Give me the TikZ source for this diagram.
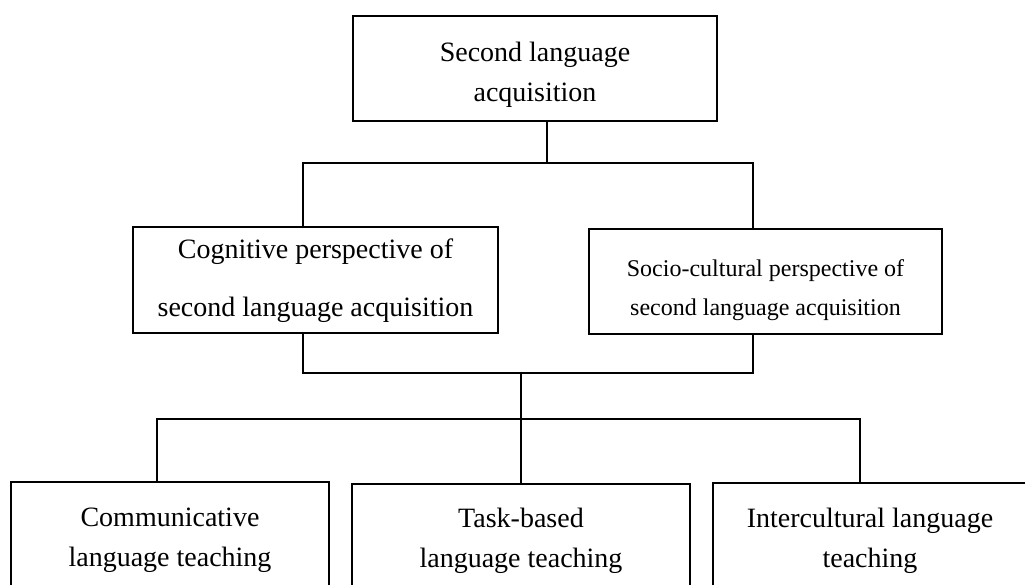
\documentclass[tikz,border=0pt]{standalone}
\usepackage{fontspec}
\setmainfont{Liberation Serif}
\begin{document}
\begin{tikzpicture}[x=1pt,y=-1pt,
  box/.style={draw, line width=2pt, inner sep=0pt, outer sep=0pt,
    anchor=north west},
  txt/.style={inner sep=0pt, align=center, font=\fontsize{28}{40}\selectfont},
  link/.style={line width=2pt}]
\useasboundingbox (0,0) rectangle (1025,585);
\clip (0,0) rectangle (1025,585);

% boxes
\node[box, minimum width=364pt, minimum height=105pt] (sla) at (353,16) {};
\node[box, minimum width=365pt, minimum height=106pt] (cog) at (133,227) {};
\node[box, minimum width=353pt, minimum height=105pt] (soc) at (589,229) {};
\node[box, minimum width=318pt, minimum height=116pt] (clt) at (11,482) {};
\node[box, minimum width=338pt, minimum height=114pt] (tblt) at (352,484) {};
\node[box, minimum width=314pt, minimum height=115pt] (ilt) at (713,483) {};

% box texts
\node[txt] (sla-t) at ([yshift=-6pt]sla.center) {Second language\\acquisition};
\node[txt, font=\fontsize{28}{58}\selectfont] (cog-t) at ([yshift=-1pt]cog.center)
  {Cognitive perspective of\\second language acquisition};
\node[txt, font=\fontsize{24}{39}\selectfont] (soc-t) at ([yshift=-9pt]soc.center)
  {Socio-cultural perspective of\\second language acquisition};
\node[txt] (clt-t) at (clt.center) {Communicative\\language teaching};
\node[txt] (tblt-t) at (tblt.center) {Task-based\\language teaching};
\node[txt] (ilt-t) at (ilt.center) {Intercultural language\\teaching};

% junction points
\coordinate (j1) at (547,163);
\coordinate (j2) at (521,373);
\coordinate (j3) at (521,419);
\coordinate (cx) at (303,0);
\coordinate (sx) at (753,0);
\coordinate (lx) at (157,0);
\coordinate (rx) at (860,0);

% first level
\draw[link] (sla.south -| j1) -- (j1);
\draw[link] (cog.north -| cx) -- (j1 -| cx) -- (j1 -| sx) -- (soc.north -| sx);

% second level
\draw[link] (cog.south -| cx) -- (j2 -| cx) -- (j2 -| sx) -- (soc.south -| sx);
\draw[link] (j2) -- (tblt.north -| j2);
\draw[link] (clt.north -| lx) -- (j3 -| lx) -- (j3 -| rx) -- (ilt.north -| rx);
\end{tikzpicture}
\end{document}
